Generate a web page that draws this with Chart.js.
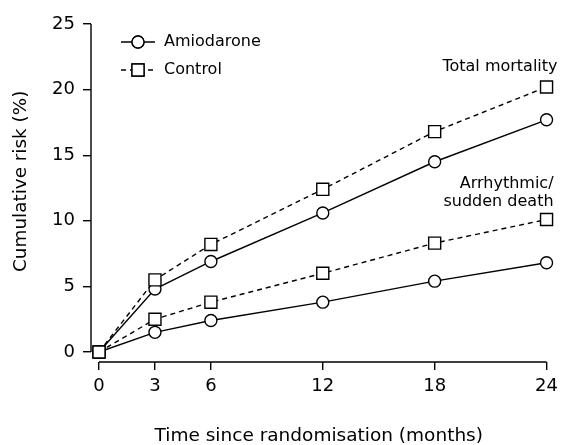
<!DOCTYPE html>
<html>
<head>
  <title>Cumulative risk</title>
  <script src="https://cdn.jsdelivr.net/npm/chart.js"></script>
  <style>
    body { margin: 0; background: #fff; }
  </style>
</head>
<body>
  <canvas id="myChart" width="564" height="445"></canvas>
  <script>
    const months = [0, 3, 6, 12, 18, 24];
    const controlTotal = [0, 5.5, 8.2, 12.4, 16.8, 20.2];
    const amioTotal = [0, 4.8, 6.9, 10.6, 14.5, 17.7];
    const controlArrhythmic = [0, 2.5, 3.8, 6.0, 8.3, 10.1];
    const amioArrhythmic = [0, 1.5, 2.4, 3.8, 5.4, 6.8];
    const yTicks = [0, 5, 10, 15, 20, 25];
    const seriesNames = ['Amiodarone', 'Control'];

    const FONT = 'DejaVu Sans';
    const toPoints = (vals) => vals.map((v, i) => ({ x: months[i], y: v }));

    function series(vals, isControl) {
      return {
        label: isControl ? seriesNames[1] : seriesNames[0],
        data: toPoints(vals),
        borderColor: '#000',
        borderWidth: 1.4,
        borderDash: isControl ? [5, 4] : [],
        pointStyle: isControl ? 'rect' : 'circle',
        pointRadius: isControl ? 8.5 : 6,
        pointHoverRadius: isControl ? 8.5 : 6,
        pointBackgroundColor: '#fff',
        pointBorderColor: '#000',
        pointBorderWidth: 1.4,
        tension: 0,
        clip: false
      };
    }

    // axis lines only span the data range, like the original figure
    const axisLines = {
      id: 'axisLines',
      afterDraw(chart) {
        const { ctx, scales: { x, y } } = chart;
        ctx.save();
        ctx.strokeStyle = '#000';
        ctx.lineWidth = 1.4;
        ctx.beginPath();
        const left = chart.chartArea.left;
        ctx.moveTo(left, y.getPixelForValue(yTicks[0]));
        ctx.lineTo(left, y.getPixelForValue(yTicks[yTicks.length - 1]));
        const bottom = chart.chartArea.bottom;
        ctx.moveTo(x.getPixelForValue(months[0]), bottom);
        ctx.lineTo(x.getPixelForValue(months[months.length - 1]), bottom);
        ctx.stroke();
        ctx.restore();
      }
    };

    const legendAndLabels = {
      id: 'legendAndLabels',
      afterDraw(chart) {
        const { ctx, scales: { x, y } } = chart;
        ctx.save();
        ctx.fillStyle = '#000';
        ctx.strokeStyle = '#000';
        ctx.lineWidth = 1.4;
        ctx.font = '16px "' + FONT + '"';
        ctx.textBaseline = 'middle';

        // legend
        const rows = [
          { y: 42, dash: [], style: 'circle', r: 6 },
          { y: 70, dash: [5, 4], style: 'rect', r: 8.5 }
        ];
        rows.forEach((row, i) => {
          ctx.setLineDash(row.dash);
          ctx.beginPath();
          ctx.moveTo(121, row.y);
          ctx.lineTo(155, row.y);
          ctx.stroke();
          ctx.setLineDash([]);
          ctx.fillStyle = '#fff';
          Chart.helpers.drawPoint(ctx, { pointStyle: row.style, radius: row.r, borderWidth: 1.4 }, 138, row.y);
          ctx.fill();
          ctx.stroke();
          ctx.fillStyle = '#000';
          ctx.textAlign = 'left';
          ctx.fillText(seriesNames[i], 164, row.y);
        });

        // group labels
        const rx = x.getPixelForValue(24) + 11;
        ctx.textAlign = 'right';
        ctx.fillText('Total mortality', rx, y.getPixelForValue(21.7));
        ctx.fillText('Arrhythmic/', rx - 4, y.getPixelForValue(12.8));
        ctx.fillText('sudden death', rx - 4, y.getPixelForValue(11.45));
        ctx.restore();
      }
    };

    const chartConfig = {
      type: 'line',
      data: {
        datasets: [
          series(controlTotal, true),
          series(amioTotal, false),
          series(controlArrhythmic, true),
          series(amioArrhythmic, false)
        ]
      },
      options: {
        responsive: false,
        animation: false,
        events: [],
        layout: { padding: { top: 24, right: 15, left: 0, bottom: 0 } },
        plugins: { legend: { display: false }, tooltip: { enabled: false } },
        scales: {
          x: {
            type: 'linear',
            min: -0.43,
            max: 24,
            afterFit(scale) { scale.height = 83; },
            afterBuildTicks(scale) { scale.ticks = months.map(v => ({ value: v })); },
            border: { display: false },
            grid: { drawOnChartArea: false, drawTicks: true, tickLength: 8, color: '#000', lineWidth: 1.4 },
            ticks: { color: '#000', padding: 6, maxRotation: 0, font: { family: FONT, size: 18 } },
            title: {
              display: true,
              text: 'Time since randomisation (months)',
              color: '#000',
              padding: { top: 0, bottom: -2 },
              font: { family: FONT, size: 18.5 }
            }
          },
          y: {
            min: -0.76,
            max: 25,
            afterFit(scale) { scale.width = 91; },
            afterBuildTicks(scale) { scale.ticks = yTicks.map(v => ({ value: v })); },
            border: { display: false },
            grid: { drawOnChartArea: false, drawTicks: true, tickLength: 8, color: '#000', lineWidth: 1.4 },
            ticks: { color: '#000', padding: 8, font: { family: FONT, size: 18 } },
            title: {
              display: true,
              // leading spaces nudge the rotated title up to sit like the original
              text: '    Cumulative risk (%)',
              color: '#000',
              padding: { top: 10, bottom: 0 },
              font: { family: FONT, size: 18.4 }
            }
          }
        }
      },
      plugins: [axisLines, legendAndLabels]
    };
    const myChart = new Chart(document.getElementById('myChart'), chartConfig);
  </script>
</body>
</html>
